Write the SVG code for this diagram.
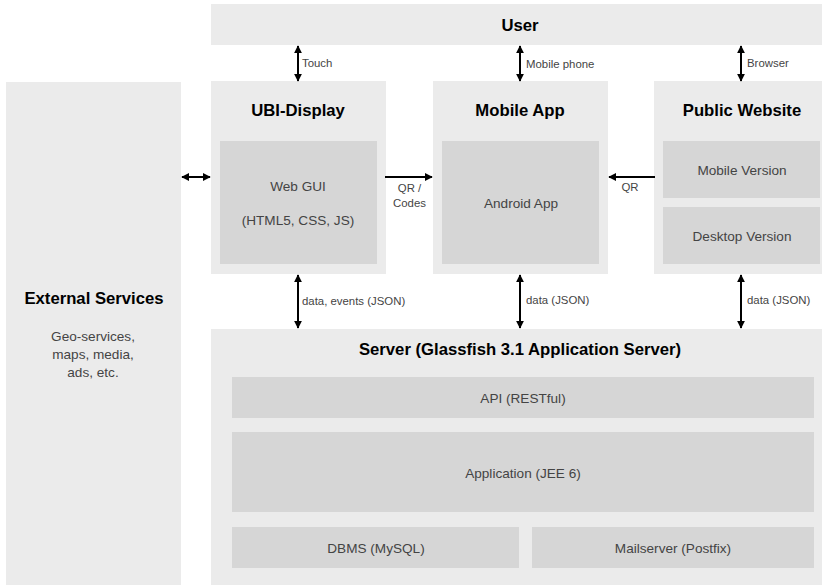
<svg xmlns="http://www.w3.org/2000/svg" width="822" height="585" viewBox="0 0 822 585">
<style>
text{font-family:"Liberation Sans",Arial,sans-serif;fill:#444;text-anchor:middle}
.o{fill:#ebebeb}.i{fill:#d6d6d6}
.t{font-size:16.7px;font-weight:bold;fill:#000}
.l{font-size:13.6px}
.s{font-size:11.4px}
.a{text-anchor:start}
.c{stroke:#000;stroke-width:2;fill:none;marker-start:url(#h);marker-end:url(#h)}
.d{stroke:#000;stroke-width:2;fill:none;marker-end:url(#h)}
</style>
<defs><marker id="h" viewBox="0 0 10 10" refX="9" refY="5" markerWidth="4" markerHeight="4" orient="auto-start-reverse" markerUnits="strokeWidth"><path d="M0 0L10 5L0 10z" fill="#000"/></marker></defs>
<rect width="822" height="585" fill="#fff"/>
<g id="user"><rect class="o" x="211" y="4" width="611" height="41"/><text class="t" x="520" y="31">User</text></g>
<g id="external"><rect class="o" x="6" y="82" width="175" height="503"/><text class="t" x="94" y="304">External Services</text><text class="l" x="93" y="341">Geo-services,</text><text class="l" x="93" y="359">maps, media,</text><text class="l" x="93" y="377">ads, etc.</text></g>
<g id="ubi"><rect class="o" x="211" y="81" width="175" height="193"/><text class="t" x="298" y="116">UBI-Display</text><rect class="i" x="220" y="141" width="157" height="123"/><text class="l" x="298" y="191">Web GUI</text><text class="l" x="298" y="225">(HTML5, CSS, JS)</text></g>
<g id="mobile"><rect class="o" x="433" y="81" width="175" height="193"/><text class="t" x="520" y="116">Mobile App</text><rect class="i" x="442" y="141" width="157" height="123"/><text class="l" x="521" y="208">Android App</text></g>
<g id="website"><rect class="o" x="654" y="81" width="168" height="193"/><text class="t" x="742" y="116">Public Website</text><rect class="i" x="663" y="141" width="157" height="57"/><text class="l" x="742" y="175">Mobile Version</text><rect class="i" x="663" y="207" width="157" height="57"/><text class="l" x="742" y="241">Desktop Version</text></g>
<g id="server"><rect class="o" x="211" y="329" width="611" height="256"/><text class="t" x="520" y="355">Server (Glassfish 3.1 Application Server)</text><rect class="i" x="232" y="377" width="582" height="41"/><text class="l" x="523" y="403">API (RESTful)</text><rect class="i" x="232" y="432" width="582" height="80"/><text class="l" x="523" y="478">Application (JEE 6)</text><rect class="i" x="232" y="527" width="287" height="41"/><text class="l" x="376" y="553">DBMS (MySQL)</text><rect class="i" x="532" y="527" width="282" height="41"/><text class="l" x="673" y="553">Mailserver (Postfix)</text></g>
<g id="connectors">
<path class="c" d="M298 46V81"/><path class="c" d="M520 46V81"/><path class="c" d="M741 46V81"/>
<path class="c" d="M182 177H210"/><path class="d" d="M385 177H432"/><path class="d" d="M655 177H609"/>
<path class="c" d="M298 275V328"/><path class="c" d="M520 275V328"/><path class="c" d="M741 275V328"/>
</g>
<g id="labels">
<text class="s a" x="302" y="67">Touch</text><text class="s a" x="526" y="68">Mobile phone</text><text class="s a" x="747" y="67">Browser</text>
<text class="s" x="409.5" y="192">QR /</text><text class="s" x="409.5" y="207">Codes</text><text class="s" x="630" y="191">QR</text>
<text class="s a" x="302" y="305">data, events (JSON)</text><text class="s a" x="526" y="304">data (JSON)</text><text class="s a" x="747" y="304">data (JSON)</text>
</g>
</svg>
